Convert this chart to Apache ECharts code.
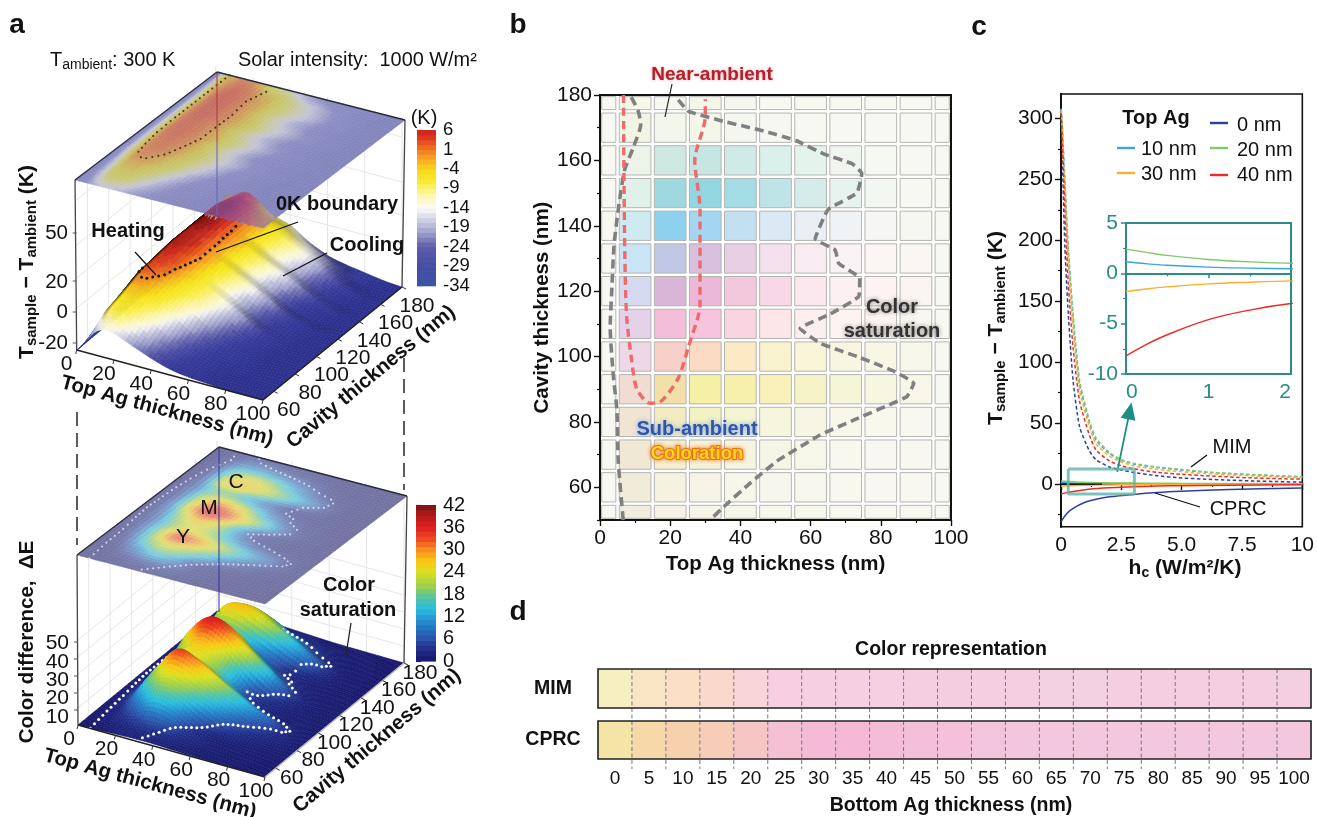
<!doctype html>
<html><head><meta charset="utf-8">
<style>html,body{margin:0;background:#fff}#c{width:1317px;height:817px}</style>
<script src="https://cdn.jsdelivr.net/npm/echarts@6/dist/echarts.min.js"></script>
</head><body><div id="c"></div>
<script>
const FONT='"Liberation Sans",Arial,sans-serif';
// ---------- panel a : surface values (K), rows = cavity, columns = top Ag
const topA=[0,5,10,15,20,30,40,50,60,70,80,90,100];
const cavities=[50,60,70,80,90,100,110,120,130,140,150,160,170,180];
const tempSurface=[
[-34,-26,-18,-15,-16,-21,-26,-30,-32,-33,-34,-34,-34],
[-34,-22,-10,-8,-9,-16,-23,-28,-31,-33,-34,-34,-34],
[-34,-20,-7,-5,-6,-11,-19,-26,-30,-32,-33,-34,-34],
[-34,-18,-4,-2,-3,-7,-14,-22,-28,-31,-33,-34,-34],
[-34,-15,-1,1,-0.5,-5,-10,-17,-25,-30,-33,-34,-34],
[-34,-14,0,3,2,-3,-8,-14,-21,-28,-32,-34,-34],
[-34,-13,1,4,3,-2,-8,-15,-23,-29,-32,-34,-34],
[-34,-12,2,5,4,-1,-6,-12,-19,-26,-31,-33,-34],
[-34,-12,2,5,4,-1,-7,-14,-21,-28,-32,-34,-34],
[-34,-11,2,6,5,0,-5,-11,-17,-24,-30,-33,-34],
[-34,-11,2,6,5,0,-6,-13,-19,-26,-31,-34,-34],
[-34,-10,2,6,5,0,-5,-10,-16,-23,-29,-33,-34],
[-34,-8,0,4,4,-2,-6,-12,-18,-25,-31,-34,-34],
[-34,-6,-2,2,1,-8,-12,-20,-26,-29,-31,-33,-34]];
// ---------- panel a : colour difference surface
const topE=[0,10,20,30,40,50,60,70,80,90,100];
const deltaE=[
[0,0.3,0.8,1.2,1.2,0.8,0.5,0.3,0.2,0.1,0],
[0,1,3,5,5,3,1.5,0.8,0.5,0.2,0],
[0,2,9,15,13,6,2.5,1.5,1,0.5,0.2],
[0,4,17,24,22,17,11,6,3,1.5,0.5],
[0,5,20,33,30,24,18,12,7,2,0.5],
[0,5,17,24,22,15,8,3.5,1.5,1,0.3],
[0,6,20,28,24,14,5,2.5,1.2,0.6,0.2],
[0,7,26,36,32,24,16,7,2,0.8,0.2],
[0,6,22,29,25,16,8,3,1.2,0.5,0.2],
[0,5,17,18,13,8,3.5,2,1,0.4,0.1],
[0,5,24,27,24,19,13,7,1.5,0.4,0.1],
[0,4,18,22,19,13,7,2.5,0.8,0.3,0.1],
[0,2,8,9,7,4.5,2.5,1,0.4,0.2,0],
[0,1,2,2,1.5,1,0.5,0.3,0.2,0.1,0]];
// contours: [top Ag, cavity]
const nearAmbient=[[6.7,180],[6.8,160],[7.1,129.5],[7.6,112],[9,99],[10.5,90],[14.3,85.7],[17,86],[22.3,93.4],[25.2,103],[28.5,116],[28.5,129.5],[28.5,145],[27,160],[30,173.4],[30,178.7]];
const satLeft=[[6.6,50],[5.2,68],[4.8,84],[3.8,94],[2.9,109],[3.3,119],[4,134],[5.2,145],[7,157],[9.5,164],[11.6,171],[10.9,175],[8.6,180]];
const satRight=[[22.3,178.5],[25.2,175],[35,172],[46.6,169],[56,166],[63.7,162],[71.8,159],[74.6,156],[73.2,150],[65,145],[61.3,136],[67,132.6],[68,128.5],[74,124],[73.7,118.3],[65.6,113],[57,108.6],[62.8,104],[73.3,100],[84,95.4],[89.4,91.8],[87.4,87.7],[73.2,81],[62.7,76],[50.4,68],[42.8,61.3],[35.2,54],[31.4,50]];
const topTicks3d=[0,20,40,60,80,100];
const cavTicks3d=[60,80,100,120,140,160,180];
const zTicksA=[-20,0,20,50];
const zTicksE=[10,20,30,40,50];
const tempStops=[[-34,'#2a2e8c'],[-29,'#363a9a'],[-26,'#4b4da3'],[-23,'#7274b5'],[-21,'#9c9dc9'],[-18,'#c4c4de'],[-15.5,'#f0f0ee'],[-13.5,'#fbf9d0'],[-11,'#fbf39a'],[-8,'#f8ec45'],[-5,'#f5e214'],[-2.5,'#f5b81e'],[-0.5,'#f08a1e'],[1.5,'#e85a1c'],[3.5,'#d2301c'],[5,'#b01c18'],[6,'#8c1410']];
const tempPlateStops=[[-34,'#8385bd'],[-24,'#8d8fc3'],[-19,'#aaaace'],[-15,'#c4c4d6'],[-12,'#c8c8b4'],[-8,'#c8c878'],[-5,'#cac262'],[-2,'#cea85c'],[1,'#cd8c60'],[6,'#c66c62']];
const tempBarStops=[[-34,'#3b55a5'],[-29,'#464da1'],[-24,'#5d5dab'],[-19,'#b3b3d6'],[-14,'#fbfbf8'],[-11,'#fdf8b8'],[-7,'#f9ea30'],[-4,'#f8d81c'],[-1,'#f6a020'],[1,'#ef7a20'],[4,'#e03a20'],[6,'#cc2020']];
const deStops=[[0,'#17176c'],[3,'#1f2b86'],[6,'#2a50a8'],[10,'#2482c8'],[14,'#28bde0'],[17,'#50c4a8'],[20,'#96ce50'],[24,'#dce020'],[27,'#f9c812'],[30,'#f89020'],[33,'#f04a20'],[36,'#e02020'],[40,'#a81818'],[42,'#781010']];
// ---------- panel b
const heatTop=[0,10,20,30,40,50,60,70,80,90,100];
const heatCav=[50,60,70,80,90,100,110,120,130,140,150,160,170,180];
const heatColors=[
['#f8f8f2','#f1edde','#f6f3e6','#f7f5ea','#f7f6ec','#f7f7ee','#f7f7ee','#f8f8f0','#f8f8f0','#f8f8f0','#f8f8f2'],
['#f8f8f2','#f1ecda','#f5f2e0','#f6f4e6','#f7f6ea','#f7f6ec','#f7f7ee','#f8f8ee','#f8f8f0','#f8f8f0','#f8f8f2'],
['#f8f8f2','#f0e8d4','#f3efd0','#f4f2d8','#f5f4e0','#f6f6e6','#f7f7ea','#f8f8ee','#f8f8f0','#f8f8f0','#f8f8f2'],
['#f8f8f2','#f0e5d2','#f3ecc0','#f3f2c4','#f4f4d0','#f6f6dc','#f7f6e4','#f8f7ea','#f8f8ec','#f8f8f0','#f8f8f2'],
['#f8f8f2','#f0dcd2','#f3e0a8','#f6efa6','#f7f0ac','#f8f2ba','#f7f3c8','#f6f5d8','#f7f6e0','#f8f7ea','#f8f8f2'],
['#f8f8f2','#ecd8e6','#f9d0c8','#fbdcc2','#fbeac4','#f9f2cf','#f8f5d8','#f8f6e0','#f8f7e6','#f8f7ec','#f8f8f2'],
['#f8f8f2','#e3d2ea','#f3bfd8','#f6c4dc','#f9d4e1','#fce6ea','#fdeff0','#fdf3f1','#fbf4ef','#faf6f0','#f8f8f2'],
['#f8f8f2','#d6daf0','#d9b5d8','#ecb8d8','#f3c8dd','#f8d8e6','#fbe8ef','#fdf0f3','#fcf3f2','#faf5f1','#f8f8f2'],
['#f8f8f2','#c9e4f4','#c0c8e5','#d9c0de','#e8cfe4','#f4e0ec','#f8ecf2','#faf2f4','#fbf5f3','#faf6f1','#f8f8f2'],
['#f8f8f2','#cfeaf0','#8ed1ee','#a3d7f1','#c3e0f2','#dbe9f5','#e9eff5','#f0f3f5','#f6f6f5','#f7f7f2','#f8f8f2'],
['#f8f8f2','#e0f1ea','#9fd9e0','#93d5e0','#a4dce6','#bfe4e8','#d4ecea','#e6f3ee','#f3f7f2','#f7f8f2','#f8f8f2'],
['#f8f9f2','#ecf4e9','#cfe8e4','#c6e6e3','#d0ebe7','#daf0ea','#e4f3ec','#eef6ee','#f6f8f2','#f7f8f2','#f8f8f2'],
['#f8f8f2','#f2f5e4','#f3f6ea','#f3f6e9','#f4f7ee','#f6f8f0','#f7f8f0','#f7f8f1','#f7f8f2','#f8f8f2','#f8f8f2'],
['#f8f8f0','#f8f8e8','#f6f7ee','#f4f6ea','#f5f7ee','#f7f8f0','#f7f8f0','#f7f8f0','#f7f8f0','#f8f8f2','#f8f8f2']];
// ---------- panel c
const hcMim=[0,.03,.16,.3,.5,.77,1.18,1.45,2,2.5,3,4,5,6,7,8,9,10];
const mim0=[300,285,195,140,85,47,27,20,14,11.5,9.5,6.8,5,4,3.2,2.5,2,1.5];
const mim10=[307,302,248,192,136,82,50,36,25,19.5,16.5,13.5,11.5,9.7,8.5,7.5,6.6,5.8];
const mim20=[308,303,250,195,140,85,52,38,26,20,17,14,12,10,8.8,7.8,6.9,6];
const mim30=[306,300,240,185,128,77,47,33,23,18,15,12,10,8.6,7.5,6.6,5.8,5.2];
const mim40=[304,295,225,165,112,68,40,28,19,15,12.5,9.5,8,6.8,5.8,5,4.4,4];
const hcCprc=[0,.25,.5,1,1.5,2,3,4,5,7,10];
const cprc0=[-31,-24,-20,-15,-12.3,-10.5,-8.5,-7,-6,-4.5,-3.2];
const cprc10=[1.15,.95,.8,.62,.52,.45,.35,.28,.22,.15,.1];
const cprc20=[2.4,2.08,1.78,1.38,1.14,1,.8,.65,.52,.4,.3];
const cprc30=[-1.8,-1.55,-1.35,-1.05,-.88,-.75,-.6,-.48,-.4,-.3,-.2];
const cprc40=[-8.2,-7.05,-6.1,-4.6,-3.65,-3,-2.2,-1.7,-1.35,-.95,-.6];
const lineColors=['#2e3f9e','#3fa3dc','#7fc96a','#f8b030','#ee2a24'];
const legendNames=['0 nm','10 nm','20 nm','30 nm','40 nm'];
const zeroLine=[[0,0],[1.7,0]];
const tealBox=[[.3,12.3],[3.04,12.3],[3.04,-8.2],[.3,-8.2],[.3,12.3]];
// ---------- panel d
const bottomAg=['0','5','10','15','20','25','30','35','40','45','50','55','60','65','70','75','80','85','90','95','100'];
const mimColors=['#f6efc0','#f8e5c4','#fbdfc6','#fbd8cc','#f9d4d8','#f7cfe0','#f6d0e2','#f5d0e2','#f5d0e2','#f4cfe2','#f3cde0','#f3cfe1','#f3cfe1','#f3d0e2','#f3d0e2','#f3cfe1','#f3cfe1','#f3cfe1','#f3cfe1','#f3cfe1','#f3cfe1'];
const cprcColors=['#f4e5a6','#f5d9a8','#f7d0ae','#f8cdb8','#f6c6c4','#f5bfd4','#f5bad6','#f5b9d6','#f5bcd8','#f4bfd8','#f4c0da','#f3c5dc','#f3c6dd','#f3c7dd','#f3c7dd','#f3c7dd','#f3c7dd','#f3c7dd','#f3c7dd','#f3c7dd','#f3c7dd'];

// ---------- helpers
const hex=h=>[parseInt(h.slice(1,3),16),parseInt(h.slice(3,5),16),parseInt(h.slice(5,7),16)];
function mapColor(st,v){
  if(v<=st[0][0])return hex(st[0][1]);
  for(let k=1;k<st.length;k++){if(v<=st[k][0]){const a=hex(st[k-1][1]),b=hex(st[k][1]),t=(v-st[k-1][0])/(st[k][0]-st[k-1][0]);return a.map((x,n)=>x+(b[n]-x)*t);}}
  return hex(st[st.length-1][1]);
}
const clamp=(v,a,b)=>Math.max(a,Math.min(b,v));
const cr=(a,b,c,d,t)=>0.5*(2*b+(c-a)*t+(2*a-5*b+4*c-d)*t*t+(3*b-a-3*c+d)*t*t*t);
function sampleGrid(m,fi,fj){
  const nj=m.length,ni=m[0].length;
  fi=clamp(fi,0,ni-1);fj=clamp(fj,0,nj-1);
  const i=Math.min(Math.floor(fi),ni-2),j=Math.min(Math.floor(fj),nj-2),ti=fi-i,tj=fj-j,r=[];
  for(let k=-1;k<3;k++){const row=m[clamp(j+k,0,nj-1)];
    r.push(cr(row[clamp(i-1,0,ni-1)],row[i],row[i+1],row[clamp(i+2,0,ni-1)],ti));}
  return cr(r[0],r[1],r[2],r[3],tj);
}
function fracIdx(arr,v){let i=0;while(i<arr.length-2&&v>arr[i+1])i++;return i+(v-arr[i])/(arr[i+1]-arr[i]);}
const valAt=(arr,f)=>{const i=Math.min(Math.floor(f),arr.length-2);return arr[i]+(f-i)*(arr[i+1]-arr[i]);};
const base=(c,top,cav,h)=>[c.O[0]+top/100*c.ex[0]+(cav-50)/130*c.ey[0],c.O[1]+top/100*c.ex[1]+(cav-50)/130*c.ey[1]-(h||0)];
const rgb=(c,f)=>{f=f==null?1:f;return `rgb(${c.map(x=>Math.round(x*f))})`;};
function platePos(pl,p){const dx=p[0]-pl.O[0],dy=p[1]-pl.O[1],D=pl.ex[0]*pl.ey[1]-pl.ey[0]*pl.ex[1];
  return [(dx*pl.ey[1]-pl.ey[0]*dy)/D,(pl.ex[0]*dy-pl.ex[1]*dx)/D];}

function panel(o){
  const nT=o.tops.length,nC=cavities.length,m=o.values;
  const cv=(fi,fj)=>clamp(sampleGrid(m,fi,fj),o.min,o.max);
  const quant=v=>o.q?Math.round(v/o.q)*o.q:v;
  const cells=[];for(let i=0;i<nT-1;i++)for(let j=nC-2;j>=0;j--)cells.push([i,j]);
  const h=v=>(v-o.min)*o.zs;
  const dots={},plateDots=[];
  o.contours.forEach(line=>{for(let k=0;k<line.length-1;k++){
    const A=line[k],B=line[k+1],pa=base(o.plate,A[0],A[1]),pb=base(o.plate,B[0],B[1]);
    const d=Math.hypot(pa[0]-pb[0],pa[1]-pb[1]),n=Math.max(1,Math.round(d/5.5));
    for(let s=0;s<n;s++){const t=s/n,top=A[0]+(B[0]-A[0])*t,cav=A[1]+(B[1]-A[1])*t;
      const fi=fracIdx(o.tops,top),fj=fracIdx(cavities,cav);
      const i=Math.min(Math.floor(fi)+1,nT-2),j=Math.max(Math.min(Math.floor(fj),nC-2)-1,0);
      plateDots.push([top,cav]);
      if(o.dotSkip&&o.dotSkip(top,cav))continue;
      (dots[i+','+j]=dots[i+','+j]||[]).push([top,cav,fi,fj]);}
  }});
  const poly=(api,pts,fill)=>({type:'polygon',silent:true,shape:{points:pts.map(p=>api.coord(p))},style:{fill,stroke:fill,lineWidth:.5}});
  const P=(fi,fj)=>base(o,valAt(o.tops,fi),valAt(cavities,fj),h(cv(fi,fj)));
  const shade=(I,fc,gc,v)=>{const d=.08;
    const dT=(cv(fc+d,gc)-cv(fc-d,gc))/(2*d*(o.tops[I+1]-o.tops[I]));
    const dC=(cv(fc,gc+d)-cv(fc,gc-d))/(2*d*10);
    const gate=clamp((v-o.gate)/o.gateW,0,1);
    return clamp(1-clamp((dT-o.s0)/o.s1,0,1)*o.sA*gate-clamp(-dC/o.c1,0,1)*o.cA,.04,1);};
  const surfColor=(I,fc,gc)=>{const v=cv(fc,gc);return mapColor(o.stops,quant(v)).map(x=>x*shade(I,fc,gc,v));};
  const walls={type:'custom',xAxisIndex:0,yAxisIndex:0,silent:true,clip:false,data:[[0,0]],z:2,renderItem(p,api){
    const ch=[],L=(a,b,col,w)=>{const A=api.coord(a),B=api.coord(b);ch.push({type:'line',silent:true,shape:{x1:A[0],y1:A[1],x2:B[0],y2:B[1]},style:{stroke:col,lineWidth:w}});};
    const G='#e6e6e6',H=o.H;
    o.topT.forEach(t=>L(base(o,t,180),base(o,t,180,H),G,1));
    o.cavT.forEach(c=>L(base(o,0,c),base(o,0,c,H),G,1));
    o.zFr.forEach(f=>{L(base(o,0,50,f),base(o,0,180,f),G,1);L(base(o,0,180,f),base(o,100,180,f),G,1);});
    return {type:'group',children:ch};
  }};
  const surf={type:'custom',xAxisIndex:0,yAxisIndex:0,silent:true,clip:false,data:cells,z:3,renderItem(p,api){
    const I=api.value(0),J=api.value(1),ch=[],nx=o.nx,ny=o.ny;
    for(let a=0;a<nx;a++)for(let b=ny-1;b>=0;b--){
      const f0=I+a/nx,f1=I+(a+1)/nx,g0=J+b/ny,g1=J+(b+1)/ny,fc=(f0+f1)/2,gc=(g0+g1)/2;
      ch.push(poly(api,[P(f0,g0),P(f1,g0),P(f1,g1),P(f0,g1)],rgb(surfColor(I,fc,gc))));
    }
    (dots[I+','+J]||[]).forEach(q=>{const c=api.coord(base(o,q[0],q[1],h(cv(q[2],q[3]))));
      ch.push({type:'circle',silent:true,shape:{cx:c[0],cy:c[1],r:o.dotR},style:{fill:o.dotC}});});
    return {type:'group',children:ch};
  }};
  const plateCol=v=>o.plateStops?mapColor(o.plateStops,v):mapColor(o.stops,v).map(x=>x*o.alpha+o.plateBg*(1-o.alpha));
  const plate={type:'custom',xAxisIndex:0,yAxisIndex:0,silent:true,clip:false,data:cells,z:4,renderItem(p,api){
    const I=api.value(0),J=api.value(1),ch=[],nx=4,ny=4;
    const Q=(fi,fj)=>base(o.plate,valAt(o.tops,fi),valAt(cavities,fj));
    for(let a=0;a<nx;a++)for(let b=0;b<ny;b++){
      const f0=I+a/nx,f1=I+(a+1)/nx,g0=J+b/ny,g1=J+(b+1)/ny;
      ch.push(poly(api,[Q(f0,g0),Q(f1,g0),Q(f1,g1),Q(f0,g1)],rgb(plateCol(quant(cv((f0+f1)/2,(g0+g1)/2))))));
    }
    return {type:'group',children:ch};
  }};
  // the part of the surface that rises behind the translucent plate shows through it
  const poke={type:'custom',xAxisIndex:0,yAxisIndex:0,silent:true,clip:false,data:cells,z:4,renderItem(p,api){
    const I=api.value(0),J=api.value(1),ch=[],nx=o.nx,ny=o.ny;
    for(let a=0;a<nx;a++)for(let b=ny-1;b>=0;b--){
      const f0=I+a/nx,f1=I+(a+1)/nx,g0=J+b/ny,g1=J+(b+1)/ny,fc=(f0+f1)/2,gc=(g0+g1)/2;
      const uv=platePos(o.plate,P(fc,gc));
      if(uv[0]<0||uv[0]>1||uv[1]<0||uv[1]>1)continue;
      const s=mapColor(o.stops,quant(cv(fc,gc))),pc=plateCol(cv(fracIdx(o.tops,uv[0]*100),fracIdx(cavities,50+uv[1]*130)));
      ch.push(poly(api,[P(f0,g0),P(f1,g0),P(f1,g1),P(f0,g1)],rgb(pc.map((x,n)=>x*(.58)+s[n]*.42-(n===1?22:0)))));
    }
    return {type:'group',children:ch};
  }};
  const over={type:'custom',xAxisIndex:0,yAxisIndex:0,silent:true,clip:false,data:[[0,0]],z:5,renderItem(p,api){
    const ch=[],L=(a,b,col,w)=>{const A=api.coord(a),B=api.coord(b);ch.push({type:'line',silent:true,shape:{x1:A[0],y1:A[1],x2:B[0],y2:B[1]},style:{stroke:col,lineWidth:w}});};
    plateDots.forEach(q=>{const c=api.coord(base(o.plate,q[0],q[1]));ch.push({type:'circle',silent:true,shape:{cx:c[0],cy:c[1],r:o.pdotR,},style:{fill:o.pdotC}});});
    const pl=o.plate;
    L(base(o,0,50),base(pl,0,50),'#444',1.3);L(base(o,100,180),base(pl,100,180),'#444',1.3);
    o.back.forEach(s=>L(base(pl,0,180,-s[0]),base(pl,0,180,-s[1]),s[2],1.2));
    L(base(pl,0,50),base(pl,0,180),'#2c2c40',1.3);L(base(pl,0,180),base(pl,100,180),'#2c2c40',1.3);
    L(base(o,0,50),base(o,100,50),'#222',1.5);L(base(o,100,50),base(o,100,180),o.frontC,1.5);
    o.topT.forEach(t=>{const b=base(o,t,50);L(b,[b[0]-1,b[1]+4],'#333',1);});
    o.cavT.forEach(c=>{const b=base(o,100,c);L(b,[b[0]+4,b[1]+2],'#333',1);});
    o.zTk.forEach(y=>{L([o.O[0],y],[o.O[0]-4,y],'#555',1);});
    return {type:'group',children:ch};
  }};
  return o.poke?[walls,surf,plate,poke,over]:[walls,surf,plate,over];
}
const panelA=panel({tops:topA,values:tempSurface,stops:tempStops,plateStops:tempPlateStops,poke:true,min:-34,max:6.5,zs:1.45,q:.8,H:170,nx:5,ny:5,
  O:[76.7,350],ex:[186.3,50],ey:[139,-113],plate:{O:[75,180],ex:[188,48],ey:[142,-108]},
  s0:.25,s1:.8,sA:.96,gate:-14,gateW:12,c1:.45,cA:.26,contours:[nearAmbient],dotSkip:(t,c)=>t<11&&c>95,dotR:1.5,dotC:'#111',pdotR:1.05,pdotC:'rgba(40,30,20,.85)',
  topT:topTicks3d,cavT:cavTicks3d,zFr:[42,72,105,150],back:[[0,70,'rgba(175,60,60,.9)'],[70,143,'rgba(110,100,180,.9)']],frontC:'#222',zTk:[343,312,281,233]});
const panelE=panel({tops:topE,values:deltaE,stops:deStops,alpha:.55,plateBg:225,min:0,max:42,zs:1.7,q:.4,H:170,nx:6,ny:6,
  O:[78,725],ex:[187,52],ey:[139,-114],plate:{O:[77,555],ex:[188,49],ey:[142,-108]},
  s0:1.5,s1:1.5,sA:.85,gate:-100,gateW:1,c1:1.6,cA:.4,contours:[satLeft,satRight],dotR:1.5,dotC:'#fff',pdotR:1.1,pdotC:'rgba(255,255,255,.65)',
  topT:topTicks3d,cavT:cavTicks3d,zFr:[17,34,51,68,85],back:[[0,165,'rgba(50,50,150,.85)']],frontC:'#bbb',zTk:[710,693,676,659,642]});

// text helpers
const measure=document.createElement('canvas').getContext('2d');
function fontOf(size,bold){return (bold?'bold ':'')+size+'px '+FONT;}
function T(text,x,y,o){o=o||{};return {type:'text',x,y,rotation:(o.rot||0)*Math.PI/180,silent:true,z:20,style:Object.assign({text,font:fontOf(o.size||19,o.bold),fill:o.color||'#111',align:o.align||'center',verticalAlign:'middle',textAlign:o.align||'center',textVerticalAlign:'middle'},o.style||{})};}
function pieces(x,y,rot,list,center){
  let w=0;const ws=list.map(p=>{measure.font=fontOf(p.s,p.b);const m=measure.measureText(p.t).width;w+=m;return m;});
  let cx=center===false?0:-w/2;
  const children=list.map((p,k)=>{const e=T(p.t,cx,p.dy||0,{size:p.s,bold:p.b,align:'left'});e.rotation=0;cx+=ws[k];return e;});
  return {type:'group',x,y,rotation:rot*Math.PI/180,silent:true,z:20,children};
}
function L(x1,y1,x2,y2,col,w,dash){return {type:'line',silent:true,z:19,shape:{x1,y1,x2,y2},style:{stroke:col||'#111',lineWidth:w||1.3,lineDash:dash}};}
const tsT=(x,y)=>pieces(x,y,90,[{t:'T',s:21,b:1},{t:'sample',s:15,b:1,dy:5},{t:' − T',s:21,b:1},{t:'ambient',s:15,b:1,dy:5},{t:' (K)',s:21,b:1}]);

const graphics=[
 T('a',17,25,{size:28,bold:1}),T('b',518,25,{size:28,bold:1}),T('c',979,27,{size:28,bold:1}),T('d',518,612,{size:28,bold:1}),
 pieces(50,60,0,[{t:'T',s:20},{t:'ambient',s:14,dy:5},{t:': 300 K',s:20}],false),
 T('Solar intensity:  1000 W/m²',238,61,{size:19.9,align:'left'}),
 T('(K)',424,118,{size:20}),
 L(77,412,77,545,'#333',1.6,[14,7]),L(404,358,404,490,'#333',1.6,[14,7]),
 tsT(27,262),
 T('Heating',128,231,{size:20,bold:1}),L(135,252,156,275),
 T('0K boundary',337,204,{size:20,bold:1}),L(298,222,216,252),
 T('Cooling',367,245,{size:20,bold:1}),L(327,253,283,276),
 T('Top Ag thickness (nm)',167,411,{size:20.5,bold:1,rot:-15.2}),
 T('Cavity thickness (nm)',371,377,{size:20.5,bold:1,rot:39.6}),
 T('Color difference,  ΔE',27,642,{size:20.5,bold:1,rot:90}),
 T('C',236,482,{size:21}),T('M',209,508,{size:21}),T('Y',183,537,{size:21}),
 T('Color',349,585,{size:20,bold:1}),T('saturation',348,610,{size:20,bold:1}),L(351,623,346,655,'#222',1.3),
 T('Top Ag thickness (nm)',150,784,{size:20.5,bold:1,rot:-15.2}),
 T('Cavity thickness (nm)',377,741,{size:20.5,bold:1,rot:40}),
 T('Near-ambient',712,75,{size:19,bold:1,color:'#b3202c',style:{textShadowColor:'rgba(230,120,120,.7)',textShadowBlur:3}}),
 L(672,84,665,117,'#222',1.2),
 T('Sub-ambient',697,429,{size:20,bold:1,color:'#2f55a8',style:{textShadowColor:'rgba(120,160,240,.95)',textShadowBlur:5}}),
 T('Coloration',697,454,{size:18.5,bold:1,color:'#f8d820',style:{stroke:'#f07018',lineWidth:2.2,textShadowColor:'rgba(240,120,20,.8)',textShadowBlur:4}}),
 T('Color',892,307,{size:20,bold:1,color:'#333',style:{textShadowColor:'rgba(110,110,110,.8)',textShadowBlur:4}}),
 T('saturation',892,331,{size:20,bold:1,color:'#333',style:{textShadowColor:'rgba(110,110,110,.8)',textShadowBlur:4}}),
 tsT(996,328),
 pieces(1185,568,0,[{t:'h',s:21,b:1},{t:'c',s:14,b:1,dy:5},{t:' (W/m²/K)',s:21,b:1}]),
 T('Top Ag',1156,118,{size:20,bold:1}),
 T('MIM',1232,447,{size:20}),L(1207,455,1191,467),
 T('CPRC',1238,509,{size:20}),L(1200,507,1155,493),
 T('Color representation',951,650,{size:19.5,bold:1}),
 T('Bottom Ag thickness (nm)',951,806,{size:19.5,bold:1}),
 T('MIM',553,689,{size:19.5,bold:1}),T('CPRC',553,740,{size:19.5,bold:1})
];
// legend of panel c
[[0,1210,123,1237,125],[1,1117,148,1141,149],[2,1210,148,1237,150],[3,1117,173,1141,174],[4,1210,175,1237,175]].forEach(r=>{
  graphics.push(L(r[1],r[2],r[1]+18,r[2],lineColors[r[0]],2.4));
  graphics.push(T(legendNames[r[0]],r[3],r[4],{size:20,align:'left'}));
});
// 3d tick labels
function tick3d(c,arrT,arrC,off1,off2,size){
  arrT.forEach(t=>{const p=base(c,t,50);graphics.push(T(String(t),p[0]+off1[0],p[1]+off1[1],{size}));});
  arrC.forEach(v=>{const p=base(c,100,v);graphics.push(T(String(v),p[0]+off2[0],p[1]+off2[1],{size}));});
}
const cfgA={O:[76.7,350],ex:[186.3,50],ey:[139,-113]},cfgE={O:[78,725],ex:[187,52],ey:[139,-114]};
tick3d(cfgA,topTicks3d,cavTicks3d,[-10,14],[15,19],21);
tick3d(cfgE,topTicks3d,cavTicks3d,[-9,14],[16,10],21);
const zPosA=[343,312,282,233];
zTicksA.forEach((v,k)=>graphics.push(T(String(v),68,zPosA[k],{size:20.5,align:'right'})));
const zPosE=[717,698,680,662,643];
zTicksE.forEach((v,k)=>graphics.push(T(String(v),69,zPosE[k],{size:21,align:'right'})));

const valueAxisBase={type:'value',axisLine:{show:true,lineStyle:{color:'#111',width:2}},splitLine:{show:false},axisLabel:{color:'#111',fontSize:21,fontFamily:FONT},axisTick:{length:6,lineStyle:{color:'#111',width:1.4}},nameTextStyle:{fontFamily:FONT,fontWeight:'bold',color:'#111',fontSize:20.5}};
const hidden=(o)=>Object.assign({type:'value',show:false,splitLine:{show:false}},o);
const tealAxis={type:'value',axisLine:{show:true,lineStyle:{color:'#2a8c86',width:2}},splitLine:{show:false},axisLabel:{color:'#2a8c86',fontSize:21,fontFamily:FONT},axisTick:{length:5,lineStyle:{color:'#2a8c86',width:1.5}},minorTick:{show:true,splitNumber:2,length:3,lineStyle:{color:'#2a8c86',width:1.2}}};
const barAxis=(o)=>Object.assign({type:'value',position:'right',axisLine:{show:false},splitLine:{show:false},axisTick:{show:true,length:5,lineStyle:{color:'#333',width:1.2}}},o);
const barLabel={color:'#111',fontSize:20,margin:7,fontFamily:FONT,hideOverlap:false,showMinLabel:true,showMaxLabel:true};

const pair=(xs,ys)=>xs.map((x,i)=>[x,ys[i]]);
const mimSets=[mim0,mim10,mim20,mim30,mim40],cprcSets=[cprc0,cprc10,cprc20,cprc30,cprc40];
const cLines=[];
mimSets.forEach((d,k)=>cLines.push({type:'line',xAxisIndex:2,yAxisIndex:3,data:pair(hcMim,d),smooth:.2,showSymbol:false,z:3,lineStyle:{color:lineColors[k],width:1.5,type:[3.5,2.5]},silent:true}));
cprcSets.forEach((d,k)=>cLines.push({type:'line',xAxisIndex:2,yAxisIndex:3,data:pair(hcCprc,d),smooth:.3,showSymbol:false,z:3,lineStyle:{color:lineColors[k],width:1.5},silent:true}));
cLines.push({type:'line',xAxisIndex:2,yAxisIndex:3,data:zeroLine,showSymbol:false,z:4,lineStyle:{color:'#111',width:1.2},silent:true});
cLines.push({type:'line',xAxisIndex:2,yAxisIndex:3,data:tealBox,showSymbol:false,z:5,lineStyle:{color:'#5fb3a8',width:3,opacity:.8},silent:true,
  markLine:{silent:true,symbol:['none','triangle'],symbolSize:[15,17],label:{show:false},lineStyle:{color:'#1c8d84',width:1.8,type:'solid'},data:[[{coord:[2.33,10]},{coord:[2.85,60]}]]}});
cprcSets.forEach((d,k)=>{if(k>0)cLines.push({type:'line',xAxisIndex:3,yAxisIndex:5,data:pair(hcCprc,d),smooth:.4,showSymbol:false,z:6,lineStyle:{color:lineColors[k],width:1.4},silent:true});});

const heatData=[];heatCav.forEach((c,j)=>heatTop.forEach((t,i)=>heatData.push([t,c,j,i])));
const bands=(min,max,n)=>{const r=[];for(let k=0;k<n;k++)r.push([min+(max-min)*k/n,min+(max-min)*(k+1)/n]);return r;};
const barSeries=(xi,yi,stops,min,max,n)=>({type:'custom',xAxisIndex:xi,yAxisIndex:yi,silent:true,data:bands(min,max,n),renderItem(p,api){
  const a=api.coord([0,api.value(0)]),b=api.coord([1,api.value(1)]);
  return {type:'rect',silent:true,shape:{x:a[0],y:b[1],width:b[0]-a[0],height:a[1]-b[1]+.6},style:{fill:rgb(mapColor(stops,(api.value(0)+api.value(1))/2))}};
}});
const rowRange=[[0,39],[52,90]];
const option={
 animation:false,backgroundColor:'#fff',textStyle:{fontFamily:FONT},
 graphic:{elements:graphics},
 grid:[
  {left:0,top:0,width:1317,height:817},
  {left:600,top:95,width:351,height:425,show:true,borderColor:'#111',borderWidth:2,backgroundColor:'#fff'},
  {left:1061,top:94,width:246,height:432.7,show:true,borderColor:'#111',borderWidth:1.6},
  {left:1126,top:223,width:165,height:151,show:true,borderColor:'#2a8c86',borderWidth:2},
  {left:598,top:669,width:713,height:100},
  {left:417,top:130,width:19,height:155.7},
  {left:416,top:505,width:20,height:156}
 ],
 xAxis:[
  hidden({gridIndex:0,min:0,max:1317}),
  Object.assign({},valueAxisBase,{gridIndex:1,min:0,max:100,interval:20,minorTick:{show:true,splitNumber:2,length:3,lineStyle:{color:'#111',width:1.2}},name:'Top Ag thickness (nm)',nameLocation:'middle',nameGap:32}),
  Object.assign({},valueAxisBase,{gridIndex:2,min:0,max:10,interval:2.5,minorTick:{show:true,splitNumber:2,length:3,lineStyle:{color:'#111',width:1.2}},axisLabel:Object.assign({},valueAxisBase.axisLabel,{formatter:v=>v===0?'0':v===10?'10':v.toFixed(1)})}),
  Object.assign({},tealAxis,{gridIndex:3,min:0,max:2,interval:1,axisLabel:Object.assign({},tealAxis.axisLabel,{alignMinLabel:'left',alignMaxLabel:'right'})}),
  {type:'category',gridIndex:4,data:bottomAg,boundaryGap:true,axisLine:{show:false},axisTick:{show:false},splitLine:{show:false},axisLabel:{interval:0,color:'#111',fontSize:19,margin:0,fontFamily:FONT}},
  hidden({gridIndex:5,min:0,max:1}),
  hidden({gridIndex:6,min:0,max:1})
 ],
 yAxis:[
  hidden({gridIndex:0,min:0,max:817,inverse:true}),
  Object.assign({},valueAxisBase,{gridIndex:1,position:'left',min:50,max:180,name:'Cavity thickness (nm)',nameLocation:'middle',nameGap:45,axisLabel:Object.assign({},valueAxisBase.axisLabel,{customValues:[60,80,100,120,140,160,180]}),axisTick:Object.assign({},valueAxisBase.axisTick,{customValues:[60,80,100,120,140,160,180]})}),
  Object.assign({},valueAxisBase,{gridIndex:1,position:'left',offset:0,min:50,max:180,axisLabel:{show:false},axisTick:{length:3,lineStyle:{color:'#111',width:1.2},customValues:[50,70,90,110,130,150,170]}}),
  Object.assign({},valueAxisBase,{gridIndex:2,position:'left',min:-35,max:320,axisLabel:Object.assign({},valueAxisBase.axisLabel,{customValues:[0,50,100,150,200,250,300]}),axisTick:Object.assign({},valueAxisBase.axisTick,{customValues:[0,50,100,150,200,250,300]})}),
  Object.assign({},valueAxisBase,{gridIndex:2,position:'left',offset:0,min:-35,max:320,axisLabel:{show:false},axisTick:{length:3,lineStyle:{color:'#111',width:1.2},customValues:[-25,25,75,125,175,225,275]}}),
  Object.assign({},tealAxis,{gridIndex:3,min:-10,max:5,interval:5}),
  hidden({gridIndex:4,min:0,max:100,inverse:true}),
  barAxis({gridIndex:5,min:-34,max:6,axisLabel:Object.assign({},barLabel,{fontSize:18.5,customValues:[-34,-29,-24,-19,-14,-9,-4,1,6]}),axisTick:{show:true,length:5,lineStyle:{color:'#333',width:1.2},customValues:[-34,-29,-24,-19,-14,-9,-4,1,6]}}),
  barAxis({gridIndex:6,min:0,max:42,interval:6,axisLabel:barLabel})
 ],
 series:[
  ...panelA,...panelE,
  barSeries(5,7,tempBarStops,-34,6,32),barSeries(6,8,deStops,0,42,30),
  {type:'custom',xAxisIndex:1,yAxisIndex:1,silent:true,data:heatData,z:2,renderItem(p,api){
    const t=api.value(0),c=api.value(1),j=api.value(2),i=api.value(3);
    const a=api.coord([Math.max(t-5,0),Math.max(c-5,50)]),b=api.coord([Math.min(t+5,100),Math.min(c+5,180)]);
    const g=1.7;
    return {type:'rect',silent:true,shape:{x:a[0]+g,y:b[1]+g,width:b[0]-a[0]-2*g,height:a[1]-b[1]-2*g},style:{fill:heatColors[j][i],stroke:'#b4b4b0',lineWidth:1}};
  }},
  {type:'line',xAxisIndex:1,yAxisIndex:1,data:nearAmbient,smooth:.25,showSymbol:false,z:4,silent:true,lineStyle:{color:'#ef6a6a',width:3.4,type:[8,5]}},
  {type:'line',xAxisIndex:1,yAxisIndex:1,data:satLeft,smooth:.2,showSymbol:false,z:3,silent:true,lineStyle:{color:'#808080',width:3.6,type:[9,5]}},
  {type:'line',xAxisIndex:1,yAxisIndex:1,data:satRight,smooth:.1,showSymbol:false,z:3,silent:true,lineStyle:{color:'#808080',width:3.6,type:[9,5]}},
  ...cLines,
  {type:'custom',xAxisIndex:4,yAxisIndex:6,silent:true,z:2,data:[mimColors,cprcColors].flatMap((arr,r)=>arr.map((c,i)=>[i,r])),renderItem(p,api){
    const i=api.value(0),r=api.value(1),w=api.size([1,0])[0],c=api.coord([i,rowRange[r][0]]),d=api.coord([i,rowRange[r][1]]);
    const col=(r===0?mimColors:cprcColors)[i];
    return {type:'rect',silent:true,shape:{x:c[0]-w/2,y:c[1],width:w+.5,height:d[1]-c[1]},style:{fill:col}};
  }},
  {type:'custom',xAxisIndex:4,yAxisIndex:6,silent:true,z:3,data:bottomAg.map((s,i)=>[i]).slice(1),renderItem(p,api){
    const i=api.value(0),w=api.size([1,0])[0],c=api.coord([i,0]),d=api.coord([i,100]);
    return {type:'line',silent:true,shape:{x1:c[0]-w/2,y1:c[1],x2:c[0]-w/2,y2:d[1]},style:{stroke:'#77777f',lineWidth:1,lineDash:[4,2.5]}};
  }},
  {type:'custom',xAxisIndex:4,yAxisIndex:6,silent:true,z:4,data:[[0],[1]],renderItem(p,api){
    const r=api.value(0),w=api.size([1,0])[0],c=api.coord([0,rowRange[r][0]]),d=api.coord([20,rowRange[r][1]]);
    return {type:'rect',silent:true,shape:{x:c[0]-w/2,y:c[1],width:d[0]-c[0]+w,height:d[1]-c[1]},style:{fill:'none',stroke:'#222',lineWidth:1.6}};
  }}
 ]
};
const chart=echarts.init(document.getElementById('c'),null,{renderer:'canvas',width:1317,height:817});
chart.setOption(option);
</script></body></html>
